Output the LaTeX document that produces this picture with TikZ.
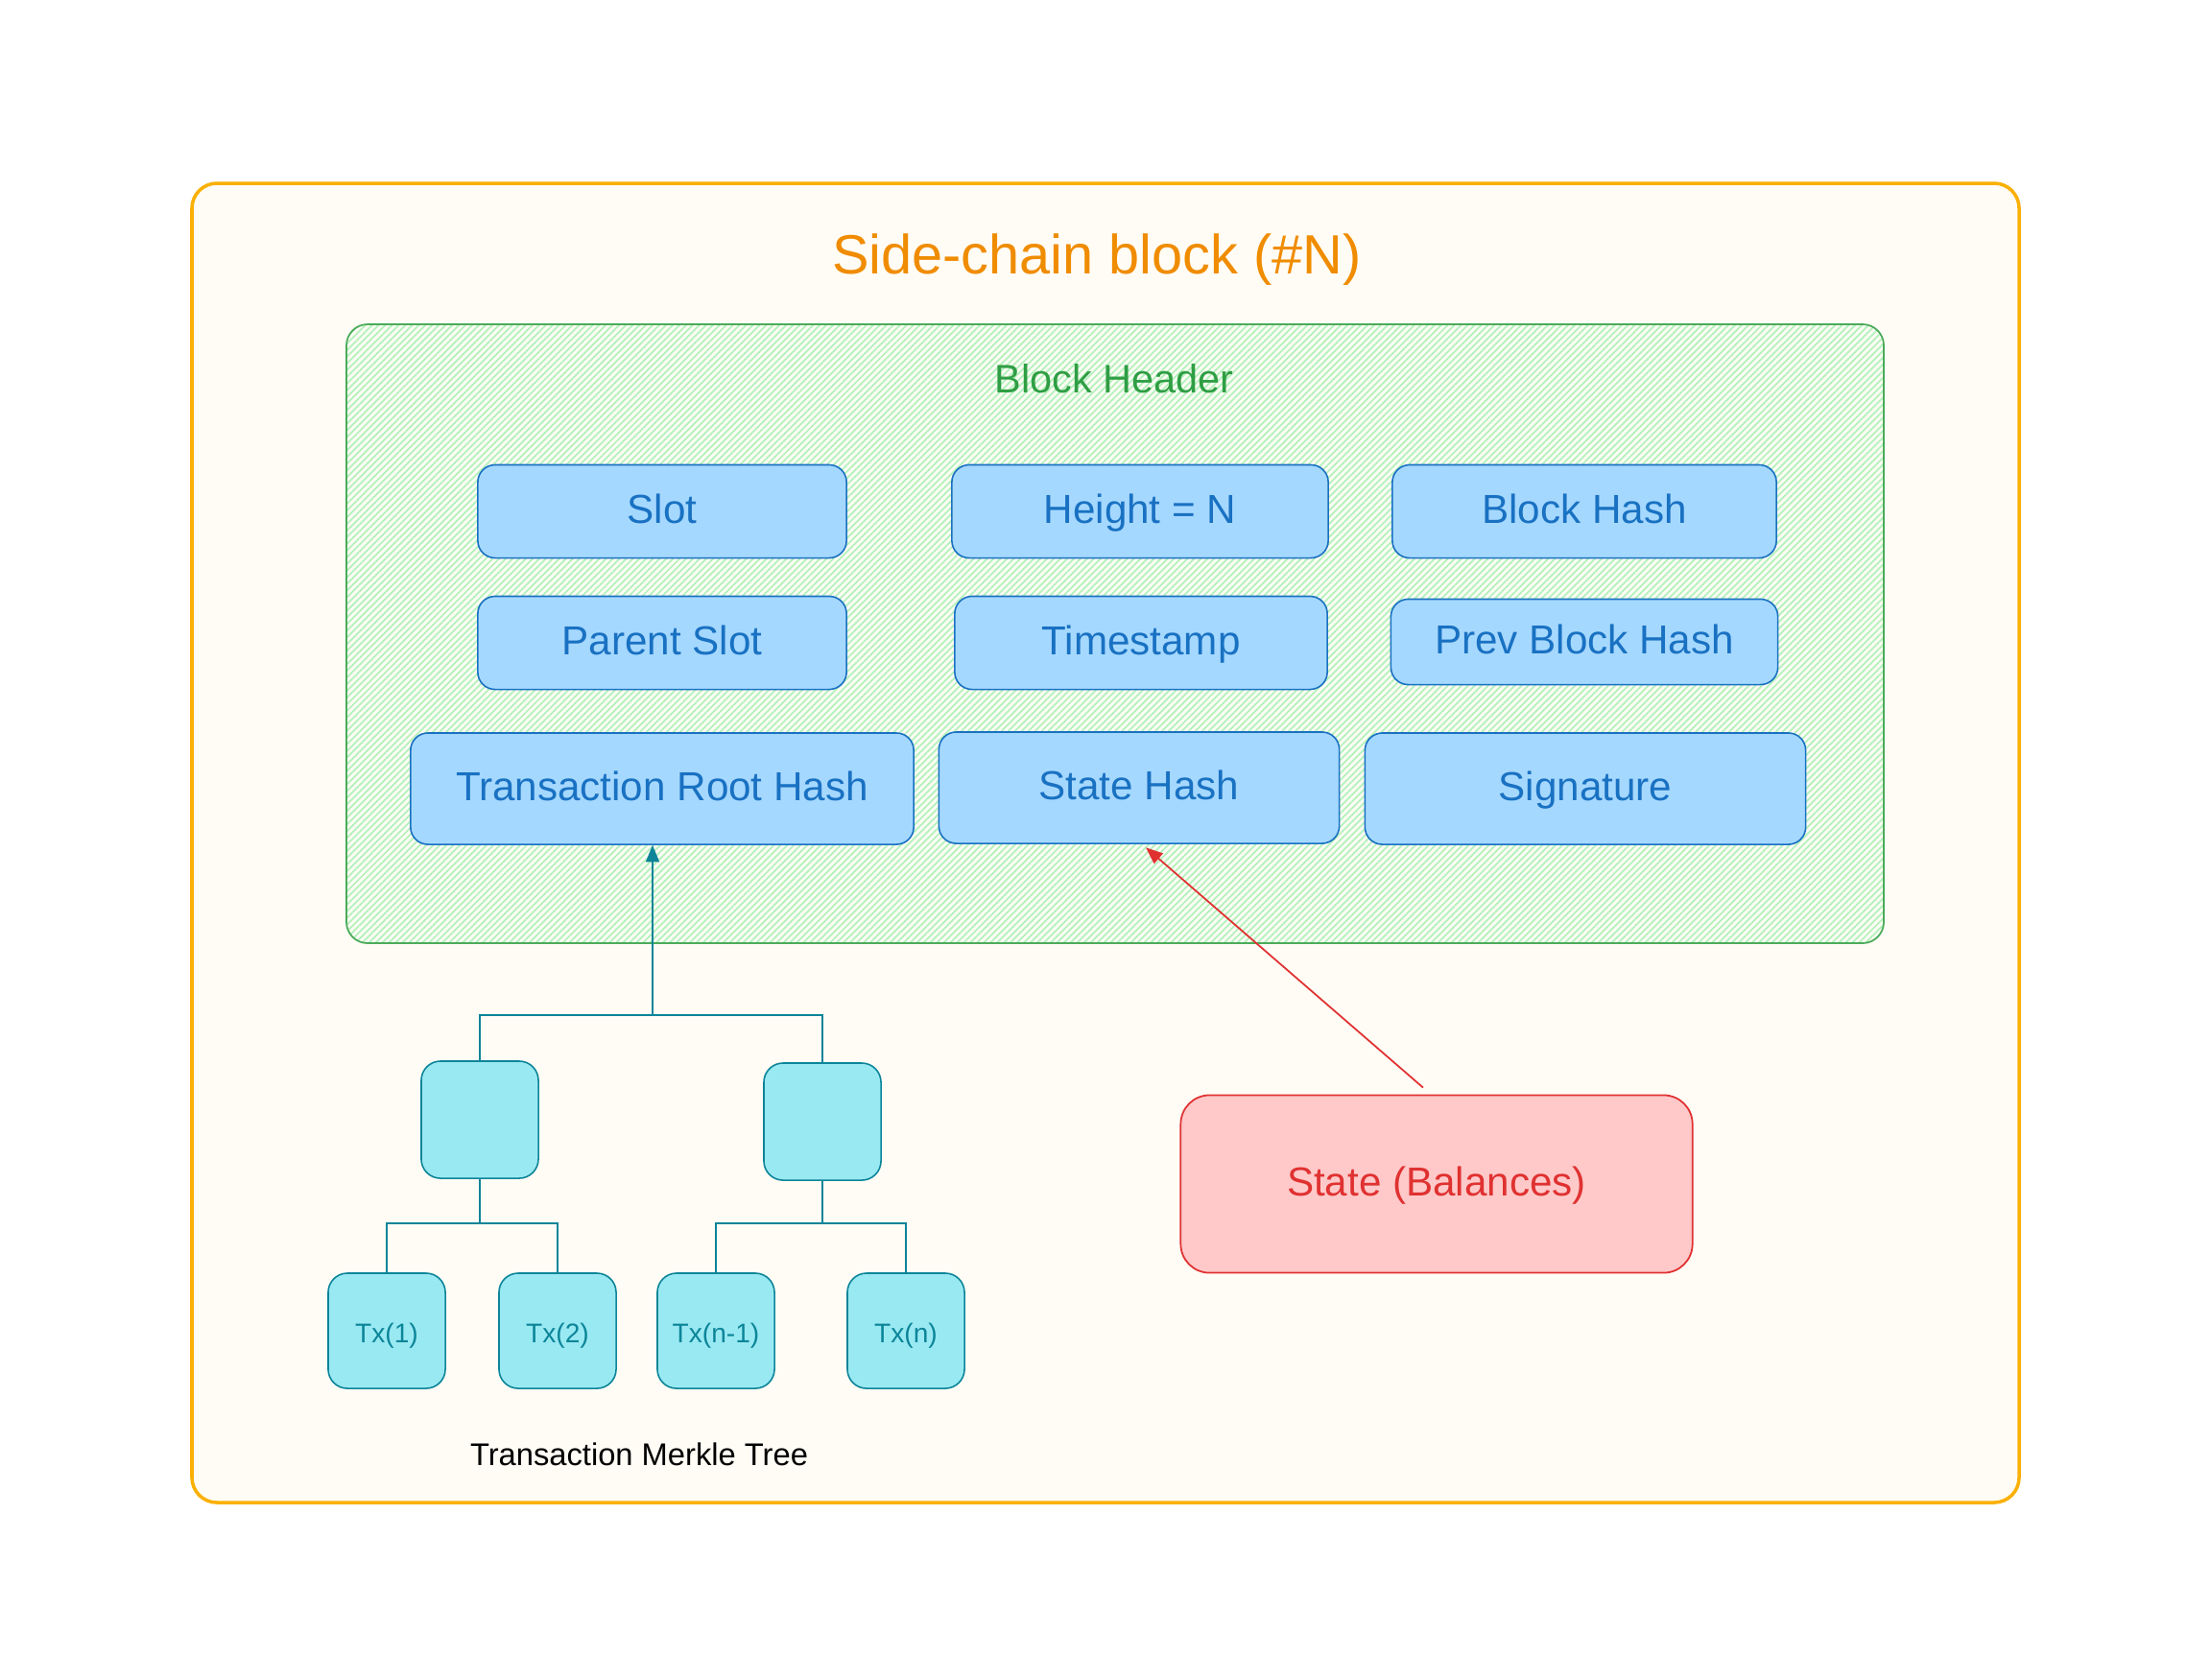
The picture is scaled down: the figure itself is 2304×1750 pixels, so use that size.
\documentclass[tikz,border=0pt]{standalone}
\usepackage{fontspec}
\setmainfont{Liberation Sans}
\usetikzlibrary{arrows.meta,patterns.meta}
\definecolor{blockline}{HTML}{FAB005}
\definecolor{blockfill}{HTML}{FFFCF5}
\definecolor{blocktitle}{HTML}{F08C00}
\definecolor{hdrline}{HTML}{4CAB5A}
\definecolor{hdrtext}{HTML}{2F9E44}
\definecolor{hdrhatch}{HTML}{B2F2BB}
\definecolor{fieldfill}{HTML}{A5D8FF}
\definecolor{fieldline}{HTML}{1971C2}
\definecolor{txfill}{HTML}{99E9F2}
\definecolor{txline}{HTML}{0C8599}
\definecolor{statefill}{HTML}{FFC9C9}
\definecolor{stateline}{HTML}{E03131}

\begin{document}
\begin{tikzpicture}[x=0.01cm,y=-0.01cm,
  capsmid/.style={text height=0.72em,text depth=0pt},
  field/.style={draw=fieldline,fill=fieldfill,text=fieldline,rounded corners=0.18cm,
    line width=0.45pt,inner sep=0pt,capsmid,font=\fontsize{12}{14}\selectfont},
  txnode/.style={draw=txline,fill=txfill,text=txline,rounded corners=0.2cm,
    line width=0.45pt,inner sep=0pt,minimum width=1.22cm,minimum height=1.2cm,
    capsmid,font=\fontsize{8}{10}\selectfont},
  treeline/.style={txline,line width=0.5pt}]

  \fill[white] (0,0) rectangle (2304,1750);
  \useasboundingbox (0,0) rectangle (2304,1750);

  % side-chain block
  \draw[blockline,line width=1pt,fill=blockfill,rounded corners=0.26cm] (200,191) rectangle (2104,1566);
  \node[text=blocktitle,font=\fontsize{16.4}{20}\selectfont,capsmid] (title) at (1143,273) {Side-chain block (\#N)};

  % block header
  \draw[hdrline,line width=0.5pt,rounded corners=0.22cm,
    pattern={Lines[angle=45,distance=1.4pt,line width=0.5pt]},pattern color=hdrhatch]
    (361,338) rectangle (1963,983);
  \node[text=hdrtext,font=\fontsize{11.8}{14}\selectfont,capsmid] (header) at (1161,397) {Block Header};

  \node[field,minimum width=3.84cm,minimum height=0.97cm] (slot) at (690,533) {Slot};
  \node[field,minimum width=3.92cm,minimum height=0.97cm] (height) at (1188,533) {Height = N};
  \node[field,minimum width=4.00cm,minimum height=0.97cm] (bhash) at (1651,533) {Block Hash};
  \node[field,minimum width=3.84cm,minimum height=0.97cm] (pslot) at (690,670) {Parent Slot};
  \node[field,minimum width=3.88cm,minimum height=0.97cm] (tstamp) at (1189,670) {Timestamp};
  \node[field,minimum width=4.03cm,minimum height=0.89cm] (prevhash) at (1651,669) {Prev Block Hash};
  \node[field,minimum width=5.24cm,minimum height=1.16cm] (txroot) at (690,822) {Transaction Root Hash};
  \node[field,minimum width=4.17cm,minimum height=1.16cm] (shash) at (1187,821) {State Hash};
  \node[field,minimum width=4.59cm,minimum height=1.16cm] (sig) at (1652,822) {Signature};

  % merkle tree
  \node[txnode,minimum height=1.22cm] (lhash) at (500,1167) {};
  \node[txnode,minimum height=1.22cm] (rhash) at (857,1169) {};
  \node[txnode] (tx1) at (403,1387) {Tx(1)};
  \node[txnode] (tx2) at (581,1387) {Tx(2)};
  \node[txnode] (txn1) at (746,1387) {Tx(n-1)};
  \node[txnode] (txn) at (944,1387) {Tx(n)};
  \node[font=\fontsize{9.3}{11}\selectfont,capsmid] (mlabel) at (666,1515) {Transaction Merkle Tree};

  \coordinate (junc) at (680,1058);
  \coordinate (lsplit) at (500,1275);
  \coordinate (rsplit) at (857,1275);
  \draw[treeline] (lhash.north) |- (junc) -| (rhash.north);
  \draw[treeline,-{Triangle[length=5pt,width=4pt]}] (junc) -- (junc |- txroot.south);
  \draw[treeline] (lhash.south) -- (lsplit);
  \draw[treeline] (tx1.north) |- (lsplit) -| (tx2.north);
  \draw[treeline] (rhash.south) -- (rsplit);
  \draw[treeline] (txn1.north) |- (rsplit) -| (txn.north);

  % state
  \node[draw=stateline,fill=statefill,text=stateline,rounded corners=0.3cm,line width=0.5pt,
    minimum width=5.33cm,minimum height=1.85cm,capsmid,
    font=\fontsize{12}{14}\selectfont] (state) at (1497,1234) {State (Balances)};
  \draw[stateline,line width=0.5pt,-{Triangle[length=5pt,width=4pt]}]
    ([xshift=-4pt,yshift=2pt]state.north) -- ([xshift=2pt,yshift=-1pt]shash.south);
\end{tikzpicture}
\end{document}
